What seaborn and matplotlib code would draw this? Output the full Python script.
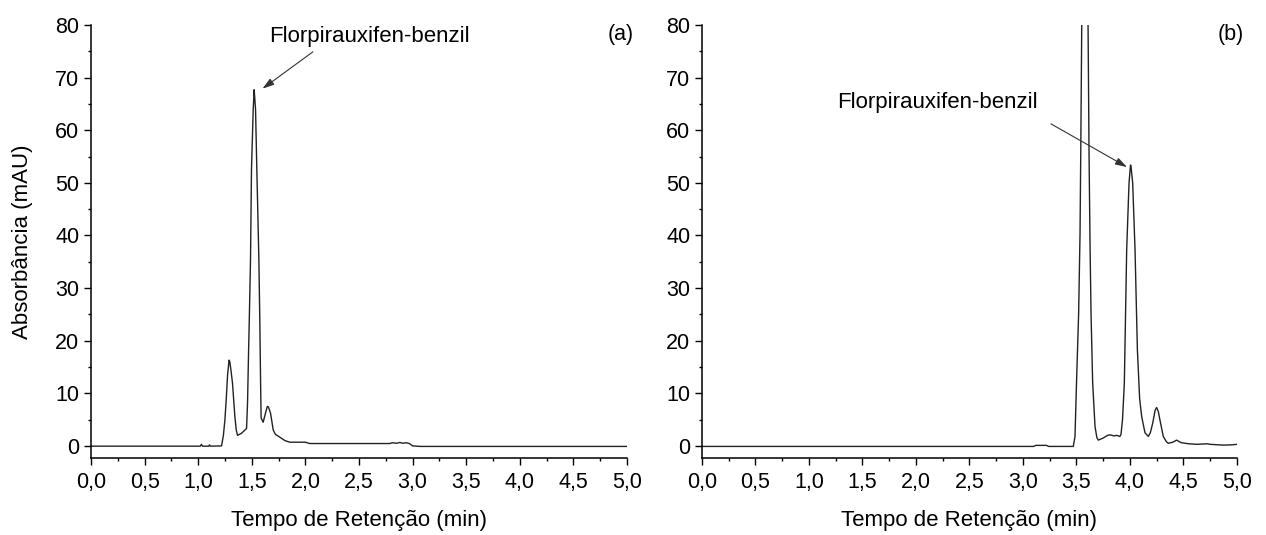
import numpy as np
import pandas as pd
import matplotlib
matplotlib.use("Agg")
import matplotlib.pyplot as plt
from matplotlib.ticker import MultipleLocator, FormatStrFormatter
import seaborn as sns

# Chromatogram (a): retention time (min) and absorbance (mAU)
time_a = [0.0, 1.02, 1.03, 1.04, 1.10, 1.105, 1.115, 1.218, 1.235, 1.249,
          1.262, 1.274, 1.288, 1.295, 1.308, 1.32, 1.342, 1.355, 1.367, 1.385,
          1.404, 1.435, 1.451, 1.46, 1.47, 1.476, 1.488, 1.497, 1.513, 1.522,
          1.528, 1.535, 1.547, 1.566, 1.575, 1.582, 1.587, 1.606, 1.631, 1.645,
          1.655, 1.675, 1.70, 1.72, 1.777, 1.81, 1.855, 2.0, 2.04, 2.79,
          2.81, 2.85, 2.88, 2.91, 2.94, 2.97, 3.0, 3.07, 5.0]
abs_a = [-0.05, -0.05, 0.3, -0.05, -0.05, 0.2, -0.05, 0.0, 2.0, 4.9,
         9.0, 13.5, 16.3, 16.0, 14.0, 11.9, 5.6, 3.0, 2.0, 2.2,
         2.4, 3.0, 3.3, 8.0, 18.0, 23.4, 35.4, 52.5, 63.9, 67.7,
         66.0, 63.9, 52.5, 35.4, 23.4, 12.0, 5.3, 4.5, 6.5, 7.5,
         7.4, 6.2, 3.0, 2.2, 1.45, 1.0, 0.7, 0.7, 0.45, 0.45,
         0.6, 0.5, 0.65, 0.5, 0.6, 0.45, 0.0, -0.1, -0.1]

# Chromatogram (b)
time_b = [0.0, 3.10, 3.12, 3.22, 3.24, 3.455, 3.47, 3.486, 3.50, 3.52,
          3.533, 3.54, 3.549, 3.56, 3.578, 3.598, 3.608, 3.617, 3.626, 3.636,
          3.651, 3.673, 3.69, 3.704, 3.75, 3.79, 3.813, 3.85, 3.875, 3.905,
          3.916, 3.93, 3.947, 3.969, 3.991, 4.005, 4.01, 4.025, 4.047, 4.069,
          4.09, 4.109, 4.14, 4.171, 4.19, 4.212, 4.235, 4.249, 4.265, 4.28,
          4.311, 4.34, 4.358, 4.40, 4.436, 4.46, 4.483, 4.55, 4.623, 4.717,
          4.75, 4.87, 4.95, 5.0]
abs_b = [-0.1, -0.1, 0.1, 0.1, -0.1, -0.1, -0.1, 1.8, 11.9, 25.2,
         40.4, 56.3, 80.0, 105.0, 125.0, 105.0, 80.0, 56.0, 39.0, 25.0,
         12.0, 3.7, 1.6, 1.1, 1.5, 2.0, 2.1, 1.9, 2.0, 1.8,
         2.2, 5.0, 11.9, 37.3, 50.0, 53.4, 53.0, 50.0, 37.3, 18.3,
         9.0, 5.6, 2.5, 1.8, 2.5, 4.3, 6.8, 7.3, 6.5, 4.9,
         1.8, 0.8, 0.5, 0.7, 1.1, 0.8, 0.6, 0.4, 0.3, 0.4,
         0.3, 0.15, 0.2, 0.3]

x_ticks = [0.0, 0.5, 1.0, 1.5, 2.0, 2.5, 3.0, 3.5, 4.0, 4.5, 5.0]
y_ticks = [0, 10, 20, 30, 40, 50, 60, 70, 80]
compound = "Florpirauxifen-benzil"

sns.set_style("ticks")
plt.rcParams["font.family"] = ["Liberation Sans", "DejaVu Sans"]
plt.rcParams["axes.edgecolor"] = "black"
plt.rcParams["axes.linewidth"] = 1.1
plt.rcParams["text.color"] = "black"
plt.rcParams["axes.labelcolor"] = "black"

fig = plt.figure(figsize=(12.66, 5.35), dpi=100)
ax_a = fig.add_axes([91 / 1266, 77 / 535, 536 / 1266, 433 / 535])
ax_b = fig.add_axes([702 / 1266, 77 / 535, 535 / 1266, 433 / 535])

df_a = pd.DataFrame({"t": time_a, "A": abs_a})
df_b = pd.DataFrame({"t": time_b, "A": abs_b})

line_kw = dict(x="t", y="A", estimator=None, sort=False, color="#222222", linewidth=1.0)
sns.lineplot(data=df_a, ax=ax_a, **line_kw)
sns.lineplot(data=df_b, ax=ax_b, **line_kw)

tick_fs = 15.5
label_fs = 16
note_fs = 16

for ax, tag in ((ax_a, "(a)"), (ax_b, "(b)")):
    ax.set_xlim(0, 5)
    ax.set_ylim(-2.3, 80)
    ax.set_xticks(x_ticks)
    ax.set_yticks(y_ticks)
    ax.xaxis.set_minor_locator(MultipleLocator(0.25))
    ax.yaxis.set_minor_locator(MultipleLocator(5))
    ax.xaxis.set_major_formatter(FormatStrFormatter("%.1f"))
    ax.set_xticklabels([f"{v:.1f}".replace(".", ",") for v in x_ticks])
    ax.tick_params(axis="both", which="major", direction="out", length=5,
                   width=1.0, labelsize=tick_fs, colors="black")
    ax.tick_params(axis="both", which="minor", direction="out", length=2.5,
                   width=1.0, colors="black")
    ax.tick_params(axis="x", which="major", pad=5)
    ax.tick_params(axis="y", which="major", pad=3.5)
    sns.despine(ax=ax)
    ax.spines["left"].set_color("black")
    ax.spines["bottom"].set_color("black")
    ax.set_xlabel("Tempo de Retenção (min)", fontsize=label_fs, color="black")
    ax.xaxis.set_label_coords(0.5, -0.12)
    ax.xaxis.label.set_va("top")
    ax.set_ylabel("")
    ax.text(0.989, 0.979, tag, transform=ax.transAxes, ha="center", va="center",
            fontsize=tick_fs, color="black")

ax_a.set_ylabel("Absorbância (mAU)", fontsize=label_fs, color="black")
ax_a.yaxis.set_label_coords(-0.108, 0.5)

arrow_kw = dict(arrowstyle="-|>,head_length=0.7,head_width=0.22", color="#333333",
                lw=0.8, shrinkA=0, shrinkB=0)

ax_a.text(2.60, 77.8, compound, ha="center", va="center", fontsize=note_fs, color="black")
ax_a.annotate("", xy=(1.60, 67.9), xytext=(2.07, 74.9), arrowprops=arrow_kw)

ax_b.text(2.196, 65.2, compound, ha="center", va="center", fontsize=note_fs, color="black")
ax_b.annotate("", xy=(3.972, 53.0), xytext=(3.262, 61.2), arrowprops=arrow_kw)

fig.savefig("out.png", dpi=100, facecolor="white")
